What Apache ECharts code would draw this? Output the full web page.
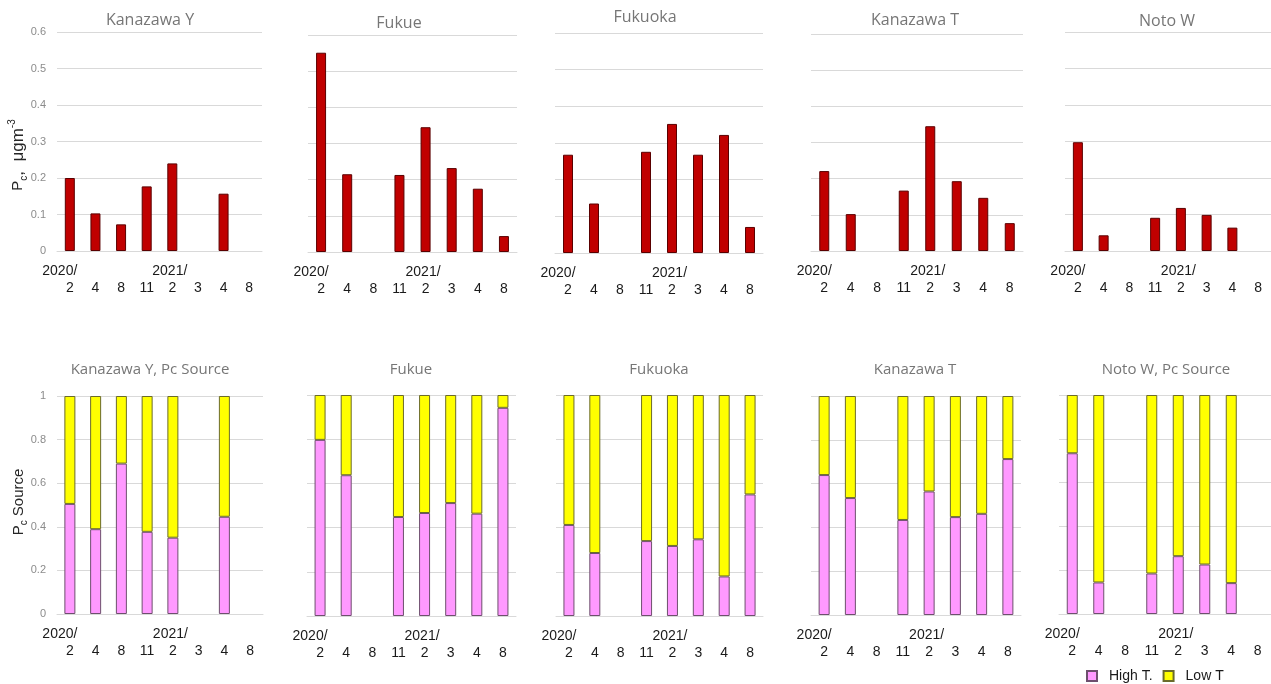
<!DOCTYPE html>
<html>
<head>
<meta charset="utf-8">
<script src="https://cdn.jsdelivr.net/npm/echarts@6/dist/echarts.min.js"></script>
<style>
  html, body { margin: 0; padding: 0; background: #fff; }
  #chart { width: 1271px; height: 684px; }
</style>
</head>
<body>
<div id="chart"></div>
<script>
// Sampling months (year/month)
const categories = ['2020/2', '2020/4', '2020/8', '2020/11', '2021/2', '2021/3', '2021/4', '2021/8'];

// Site names
const topTitles = ['Kanazawa Y', 'Fukue', 'Fukuoka', 'Kanazawa T', 'Noto W'];
const bottomTitles = ['Kanazawa Y, Pc Source', 'Fukue', 'Fukuoka', 'Kanazawa T', 'Noto W, Pc Source'];

// Pc concentration, µg m-3
const kanazawaYPc = [0.200, 0.103, 0.073, 0.177, 0.240, null, 0.157, null];
const fukuePc     = [0.551, 0.215, null, 0.213, 0.345, 0.232, 0.175, 0.044];
const fukuokaPc   = [0.268, 0.135, null, 0.276, 0.352, 0.268, 0.322, 0.071];
const kanazawaTPc = [0.221, 0.102, null, 0.167, 0.345, 0.193, 0.147, 0.077];
const notoWPc     = [0.298, 0.043, null, 0.091, 0.118, 0.099, 0.064, null];

// Pc source fractions: high-temperature and low-temperature combustion
const kanazawaYHigh = [0.505, 0.389, 0.690, 0.377, 0.350, null, 0.446, null];
const kanazawaYLow  = [0.495, 0.611, 0.310, 0.623, 0.650, null, 0.554, null];
const fukueHigh     = [0.797, 0.637, null, 0.448, 0.466, 0.511, 0.463, 0.942];
const fukueLow      = [0.203, 0.363, null, 0.552, 0.534, 0.489, 0.537, 0.058];
const fukuokaHigh   = [0.412, 0.285, null, 0.339, 0.317, 0.347, 0.179, 0.550];
const fukuokaLow    = [0.588, 0.715, null, 0.661, 0.683, 0.653, 0.821, 0.450];
const kanazawaTHigh = [0.639, 0.534, null, 0.434, 0.564, 0.447, 0.462, 0.712];
const kanazawaTLow  = [0.361, 0.466, null, 0.566, 0.436, 0.553, 0.538, 0.288];
const notoWHigh     = [0.734, 0.144, null, 0.185, 0.264, 0.226, 0.141, null];
const notoWLow      = [0.266, 0.856, null, 0.815, 0.736, 0.774, 0.859, null];

const pcSeries = [kanazawaYPc, fukuePc, fukuokaPc, kanazawaTPc, notoWPc];
const highSeries = [kanazawaYHigh, fukueHigh, fukuokaHigh, kanazawaTHigh, notoWHigh];
const lowSeries = [kanazawaYLow, fukueLow, fukuokaLow, kanazawaTLow, notoWLow];

// Panel rectangles [left, top, width, height]
const topGrids = [[57, 32, 205, 219], [308, 35, 209, 217], [555, 33, 208, 220], [811, 34, 212, 217], [1065, 32, 208, 219]];
const bottomGrids = [[57, 396, 206, 218], [307, 395, 209, 221], [556, 395, 207, 221], [811, 396, 210, 219], [1059, 395, 213, 219]];
// Title anchor [centre x, top y]
const topTitlePos = [[150, 12], [399, 15], [645, 9], [915, 12], [1167, 13]];
const bottomTitlePos = [[150, 362], [411, 362], [659, 362], [915, 362], [1166, 362]];

const LABEL_FONT = "'Liberation Sans', Arial, sans-serif";
const TITLE_FONT = "'Open Sans', 'Noto Sans', sans-serif";

const chart = echarts.init(document.getElementById('chart'), null, { renderer: 'canvas' });

const grids = [], xAxes = [], yAxes = [], series = [], titles = [];

// Month labels, with the year written above the first month of each year
function monthLabel(value, index) {
  const parts = value.split('/');
  const prevYear = index > 0 ? categories[index - 1].split('/')[0] : null;
  let top = '{m| }';
  if (parts[0] !== prevYear) {
    top = (index === 0 ? '{y0|' : '{y1|') + parts[0] + '/}';
  }
  return top + '\n{m|' + parts[1] + '}';
}

const tickText = { fontSize: 14, fontFamily: LABEL_FONT, color: '#1a1a1a', lineHeight: 17 };

function addPanel(rect, yMax, yInterval, showYLabels) {
  const idx = grids.length;
  grids.push({ left: rect[0], top: rect[1], width: rect[2], height: rect[3], containLabel: false });
  xAxes.push({
    type: 'category', gridIndex: idx, data: categories, boundaryGap: true,
    axisTick: { show: false },
    axisLine: { show: true, lineStyle: { color: '#d9d9d9', width: 1 } },
    axisLabel: {
      interval: 0, margin: 12, formatter: monthLabel,
      rich: {
        y0: Object.assign({ padding: [0, 20, 0, 0] }, tickText),
        y1: Object.assign({ padding: [0, 5, 0, 0] }, tickText),
        m: tickText
      }
    }
  });
  yAxes.push({
    type: 'value', gridIndex: idx, min: 0, max: yMax, interval: yInterval,
    axisLine: { show: false }, axisTick: { show: false },
    splitLine: { show: true, lineStyle: { color: '#d9d9d9', width: 1 } },
    axisLabel: {
      show: showYLabels, fontSize: 11, fontFamily: LABEL_FONT, color: '#8c8c8c', margin: 11,
      formatter: v => String(Math.round(v * 10) / 10)
    }
  });
  return idx;
}

function addTitle(text, pos, size) {
  titles.push({
    text: text, left: pos[0], top: pos[1], textAlign: 'center', padding: 0,
    textStyle: { fontSize: size, fontWeight: 'normal', fontFamily: TITLE_FONT, color: '#767676' }
  });
}

// Concentration panels
for (let i = 0; i < 5; i++) {
  const idx = addPanel(topGrids[i], 0.6, 0.1, i === 0);
  series.push({
    name: 'Pc', type: 'bar', xAxisIndex: idx, yAxisIndex: idx, data: pcSeries[i],
    barWidth: 10,
    itemStyle: { color: '#c00000', borderColor: '#5a0000', borderWidth: 1 }
  });
  addTitle(topTitles[i], topTitlePos[i], 16);
}

// Source fraction panels
for (let i = 0; i < 5; i++) {
  const idx = addPanel(bottomGrids[i], 1, 0.2, i === 0);
  series.push({
    name: 'High T.', type: 'bar', stack: 'src' + i, xAxisIndex: idx, yAxisIndex: idx, data: highSeries[i],
    barWidth: 11,
    itemStyle: { color: '#ff99ff', borderColor: '#6e4f6e', borderWidth: 1 }
  });
  series.push({
    name: 'Low T', type: 'bar', stack: 'src' + i, xAxisIndex: idx, yAxisIndex: idx, data: lowSeries[i],
    barWidth: 11,
    itemStyle: { color: '#ffff00', borderColor: '#6b6b2a', borderWidth: 1 }
  });
  addTitle(bottomTitles[i], bottomTitlePos[i], 15);
}

const axisNameColor = '#262626';

const option = {
  animation: false,
  backgroundColor: '#ffffff',
  title: titles,
  grid: grids,
  xAxis: xAxes,
  yAxis: yAxes,
  series: series,
  legend: {
    data: ['High T.', 'Low T'],
    left: 1086, top: 669, padding: 0, icon: 'rect', itemWidth: 10, itemHeight: 10, itemGap: 10,
    textStyle: { fontSize: 14, fontFamily: LABEL_FONT, color: '#1a1a1a', padding: [0, 0, 0, 7] }
  },
  graphic: [
    {
      type: 'text', x: 18, y: 155, rotation: Math.PI / 2,
      style: {
        text: '{p|P}{s|c}{q|,  μgm}{u|-3}', align: 'center', verticalAlign: 'middle',
        rich: {
          p: { fontSize: 15, fontFamily: LABEL_FONT, fill: axisNameColor, lineHeight: 22 },
          q: { fontSize: 17, fontFamily: LABEL_FONT, fill: axisNameColor, lineHeight: 22 },
          s: { fontSize: 10, fontFamily: LABEL_FONT, fill: axisNameColor, lineHeight: 22, verticalAlign: 'bottom' },
          u: { fontSize: 10, fontFamily: LABEL_FONT, fill: axisNameColor, lineHeight: 22, verticalAlign: 'top' }
        }
      }
    },
    {
      type: 'text', x: 19, y: 502, rotation: Math.PI / 2,
      style: {
        text: '{p|P}{s|c}{p| Source}', align: 'center', verticalAlign: 'middle',
        rich: {
          p: { fontSize: 15, fontFamily: LABEL_FONT, fill: axisNameColor, lineHeight: 20 },
          s: { fontSize: 10, fontFamily: LABEL_FONT, fill: axisNameColor, lineHeight: 20, verticalAlign: 'bottom' }
        }
      }
    }
  ]
};

chart.setOption(option);
</script>
</body>
</html>
